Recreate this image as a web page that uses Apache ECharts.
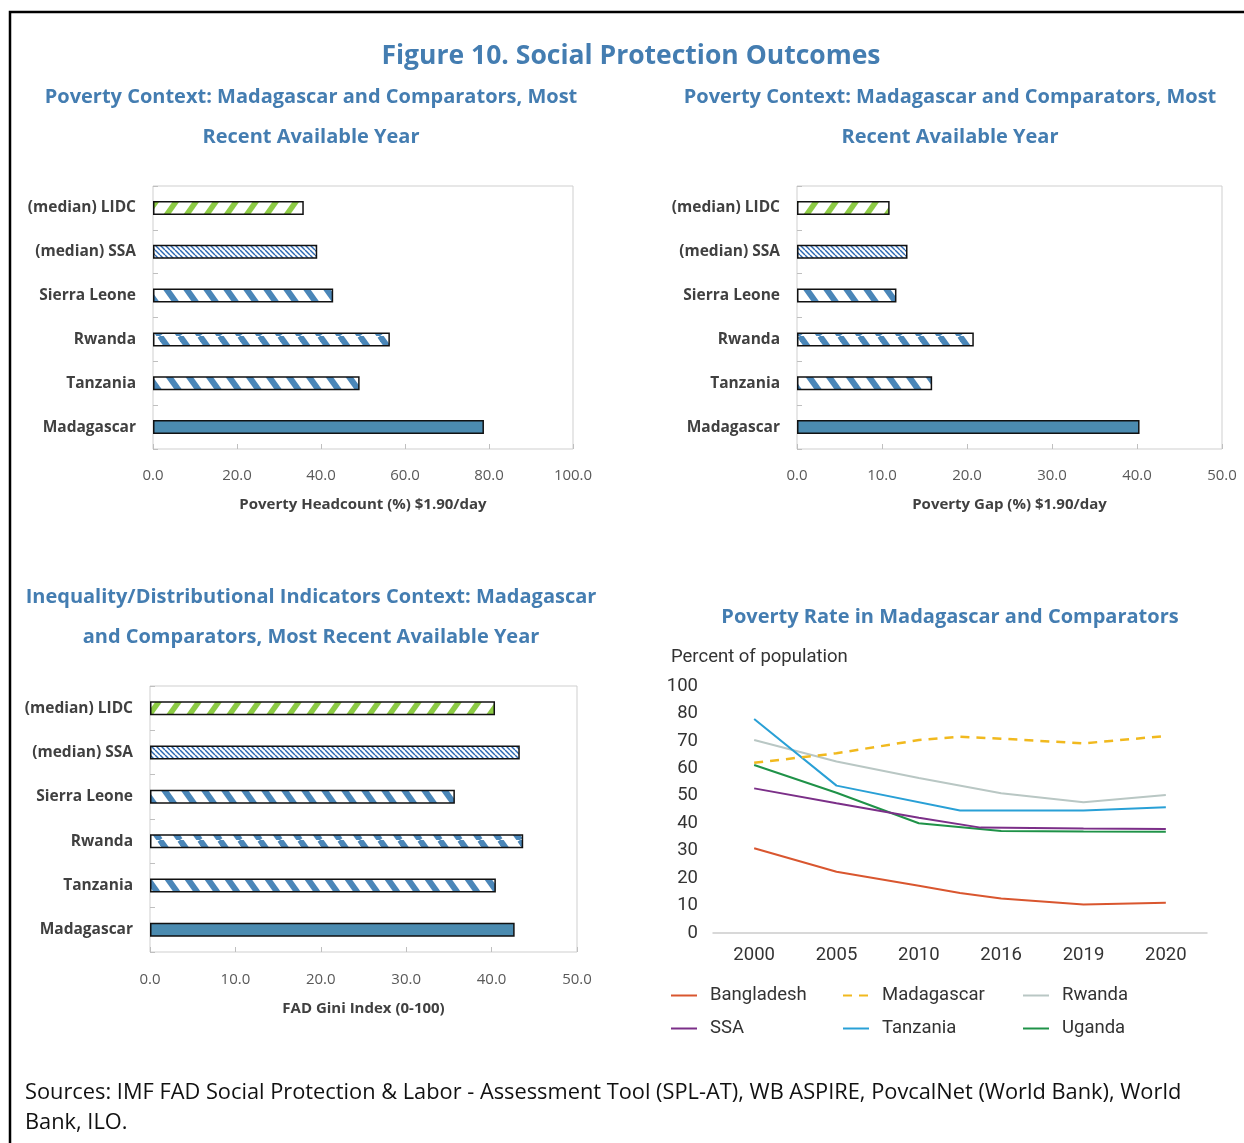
<!DOCTYPE html>
<html><head><meta charset="utf-8">
<script src="https://cdn.jsdelivr.net/npm/echarts/dist/echarts.min.js"></script>
<style>html,body{margin:0;padding:0;background:#fff;}#c{width:1244px;height:1143px;}</style>
</head><body><div id="c"></div>
<script>
// ---------- data ----------
const barCategories = ['(median) LIDC', '(median) SSA', 'Sierra Leone', 'Rwanda', 'Tanzania', 'Madagascar'];
const headcountValues = [35.9, 39.1, 42.9, 56.4, 49.2, 78.8];
const povertyGapValues = [10.9, 13.0, 11.7, 20.8, 15.9, 40.3];
const giniValues = [40.4, 43.3, 35.7, 43.7, 40.5, 42.7];

const lineYears = ['2000', '2005', '2010', '2016', '2019', '2020'];
const lineYTickLabels = ['0', '10', '20', '30', '40', '50', '60', '70', '80', '100'];
// [position on the year axis (0 = 2000 ... 5 = 2020), percent]
const bangladesh = [[0, 30.9], [1, 22.3], [2, 17.2], [2.5, 14.6], [3, 12.6], [4, 10.4], [5, 11.0]];
const madagascar = [[0, 62.0], [1, 65.5], [2, 70.3], [2.5, 71.5], [3, 70.8], [4, 69.1], [5, 71.8]];
const rwanda = [[0, 70.3], [1, 62.5], [2, 56.5], [3, 50.9], [4, 47.6], [5, 50.3]];
const ssa = [[0, 52.7], [1, 47.3], [2, 42.0], [2.75, 38.4], [4, 38.1], [5, 37.9]];
const tanzania = [[0, 78.0], [1, 53.7], [2.5, 44.6], [4, 44.6], [5, 45.8]];
const uganda = [[0, 61.2], [1, 51.1], [2, 40.0], [3, 37.2], [4, 37.0], [5, 36.9]];

// ---------- styles ----------
const blueTitle = '#447db1';
const uiFont = '"Open Sans", "Noto Sans", sans-serif';
const narrowFont = 'Roboto, "Noto Sans", sans-serif';
const narrowSize = 18.5;

function stripes(color, period, height, lw, dir) {
  const c = document.createElement('canvas');
  c.width = period; c.height = height;
  const g = c.getContext('2d');
  g.fillStyle = '#ffffff'; g.fillRect(0, 0, period, height);
  g.strokeStyle = color; g.lineWidth = lw;
  for (let k = -1; k <= 1; k++) {
    g.beginPath();
    if (dir === 'back') { g.moveTo(k * period, 0); g.lineTo((k + 1) * period, height); }
    else { g.moveTo(k * period, height); g.lineTo((k + 1) * period, 0); }
    g.stroke();
  }
  return { image: c, repeat: 'repeat' };
}
const greenPat = stripes('#8dcb45', 20, 28, 5.5, 'fwd');
const finePat = stripes('#2a66b0', 5, 5, 1.4, 'back');
const bluePat = stripes('#4a86b8', 20, 28, 6, 'back');
const solidBlue = '#4b8bb0';
const barFills = [greenPat, finePat, bluePat, bluePat, bluePat, solidBlue];

function barData(vals) {
  return vals.map((v, i) => ({ value: v, itemStyle: { color: barFills[i] } }));
}

const gridBase = { show: true, borderColor: '#cfcfcf', borderWidth: 1, backgroundColor: '#fff' };
const grids = [
  Object.assign({ left: 153, top: 186, width: 420, height: 263 }, gridBase),
  Object.assign({ left: 797, top: 186, width: 425, height: 263 }, gridBase),
  Object.assign({ left: 150, top: 686, width: 427, height: 266 }, gridBase),
  { left: 713, top: 686, width: 494, height: 247, show: false }
];

function barXAxis(gi, max, interval, name, extra) {
  return {
    type: 'value', gridIndex: gi, min: 0, max: max, interval: interval,
    axisLine: { show: false }, splitLine: { show: false },
    axisTick: { show: true, inside: true, length: 5, lineStyle: { color: '#bfbfbf' } },
    axisLabel: { formatter: v => v.toFixed(1), fontSize: 15, color: '#595959', fontFamily: uiFont, margin: 19 + extra },
    name: name, nameLocation: 'middle', nameGap: 48 + extra,
    nameTextStyle: { fontSize: 15, fontWeight: 'bold', color: '#404040', fontFamily: uiFont }
  };
}
function barYAxis(gi) {
  return {
    type: 'category', gridIndex: gi, data: barCategories, inverse: true,
    axisLine: { show: false },
    axisTick: { show: true, inside: true, length: 5, lineStyle: { color: '#bfbfbf' } },
    axisLabel: { fontSize: 15.5, fontWeight: 'bold', color: '#404040', fontFamily: uiFont, margin: 17 }
  };
}
function barSeries(idx, vals) {
  return {
    type: 'bar', xAxisIndex: idx, yAxisIndex: idx, data: barData(vals), barWidth: 14,
    itemStyle: { borderColor: '#111', borderWidth: 1.5 }, silent: true
  };
}
function lineSeries(name, data, color, extra) {
  return Object.assign({
    name: name, type: 'line', xAxisIndex: 4, yAxisIndex: 3, data: data,
    symbol: 'none', lineStyle: { color: color, width: 2 }, itemStyle: { color: color }, silent: true
  }, extra || {});
}

function txt(x, y, text, size, opts) {
  return {
    type: 'text', x: x, y: y, silent: true,
    style: Object.assign({
      text: text, fontSize: size, fontFamily: uiFont, fontWeight: 'bold', fill: blueTitle,
      align: 'center', verticalAlign: 'middle'
    }, opts || {})
  };
}

const legendCommon = {
  orient: 'vertical', itemWidth: 26, itemHeight: 14, itemGap: 14,
  itemStyle: { opacity: 0 },
  textStyle: { fontSize: narrowSize, color: '#333', fontFamily: narrowFont, padding: [0, 0, 0, 8] }
};

const option = {
  animation: false,
  backgroundColor: '#ffffff',
  grid: grids,
  xAxis: [
    barXAxis(0, 100, 20, 'Poverty Headcount (%) $1.90/day', 0),
    barXAxis(1, 50, 10, 'Poverty Gap (%) $1.90/day', 0),
    barXAxis(2, 50, 10, 'FAD Gini Index (0-100)', 1),
    {
      type: 'category', gridIndex: 3, data: lineYears, boundaryGap: true,
      axisLine: { lineStyle: { color: '#cccccc', width: 1.5 } }, axisTick: { show: false },
      axisLabel: { fontSize: narrowSize, color: '#333', fontFamily: narrowFont, margin: 13 }
    },
    { type: 'value', gridIndex: 3, min: -0.5, max: 5.5, show: false }
  ],
  yAxis: [
    barYAxis(0), barYAxis(1), barYAxis(2),
    {
      type: 'value', gridIndex: 3, min: 0, max: 90, interval: 10,
      axisLine: { show: false }, axisTick: { show: false }, splitLine: { show: false },
      axisLabel: { formatter: v => lineYTickLabels[Math.round(v / 10)], fontSize: narrowSize, color: '#333', fontFamily: narrowFont, margin: 15 }
    }
  ],
  legend: [
    Object.assign({ left: 665, top: 981, data: ['Bangladesh', 'SSA'] }, legendCommon),
    Object.assign({ left: 837, top: 981, data: ['Madagascar', 'Tanzania'] }, legendCommon),
    Object.assign({ left: 1017, top: 981, data: ['Rwanda', 'Uganda'] }, legendCommon)
  ],
  series: [
    barSeries(0, headcountValues),
    barSeries(1, povertyGapValues),
    barSeries(2, giniValues),
    lineSeries('Rwanda', rwanda, '#b9c7c4'),
    lineSeries('Bangladesh', bangladesh, '#d9562f'),
    lineSeries('Uganda', uganda, '#1f9248'),
    lineSeries('SSA', ssa, '#7b2f88'),
    lineSeries('Tanzania', tanzania, '#29a0d6'),
    lineSeries('Madagascar', madagascar, '#f1b91e', { lineStyle: { color: '#f1b91e', width: 2.5, type: [9, 7] } })
  ],
  graphic: [
    { type: 'polyline', silent: true, shape: { points: [[10, 1143], [10, 12], [1244, 12]] }, style: { stroke: '#000', lineWidth: 2.5, fill: null } },
    txt(631, 56, 'Figure 10. Social Protection Outcomes', 26.5),
    txt(311, 97, 'Poverty Context: Madagascar and Comparators, Most', 20),
    txt(311, 137, 'Recent Available Year', 20),
    txt(950, 97, 'Poverty Context: Madagascar and Comparators, Most', 20),
    txt(950, 137, 'Recent Available Year', 20),
    txt(311, 597, 'Inequality/Distributional Indicators Context: Madagascar', 20),
    txt(311, 637, 'and Comparators, Most Recent Available Year', 20),
    txt(950, 617, 'Poverty Rate in Madagascar and Comparators', 20),
    txt(671, 657, 'Percent of population', narrowSize, { fontFamily: narrowFont, fontWeight: 'normal', fill: '#333', align: 'left' }),
    txt(25, 1093, 'Sources: IMF FAD Social Protection & Labor - Assessment Tool (SPL-AT), WB ASPIRE, PovcalNet (World Bank), World', 21.8, { fontWeight: 'normal', fill: '#111', align: 'left' }),
    txt(25, 1123, 'Bank, ILO.', 21.8, { fontWeight: 'normal', fill: '#111', align: 'left' })
  ]
};

const chart = echarts.init(document.getElementById('c'), null, { renderer: 'canvas' });
chart.setOption(option);
</script>
</body></html>
